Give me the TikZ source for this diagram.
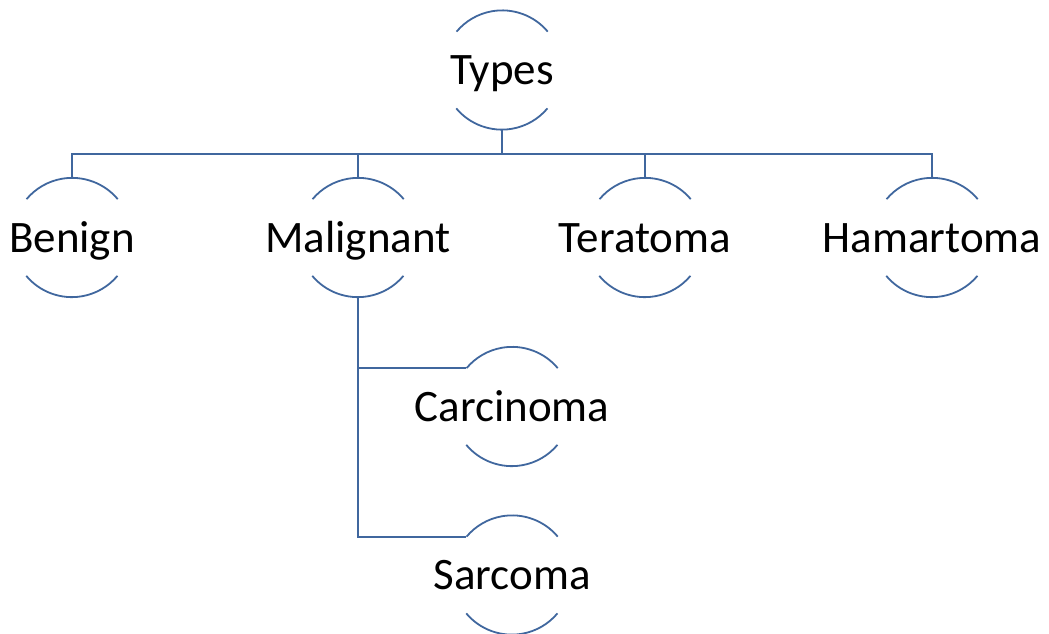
\documentclass[tikz,border=0pt]{standalone}
\usepackage{fontspec}
\setmainfont{Carlito}
\usepackage{tikz}

\definecolor{linea}{RGB}{64,103,158}

\tikzset{
  tipo/.style={circle, minimum size=119pt, inner sep=0pt},
  testo/.style={inner sep=0pt, text height=29pt, text depth=0pt,
    font=\fontsize{45}{50}\selectfont},
  archi/.style={draw=linea, line width=1.8pt}
}

\begin{document}
\begin{tikzpicture}[x=1pt, y=1pt]
\useasboundingbox (0,0) rectangle (1049,-633);

% Nodi della gerarchia
\node[tipo, label={[testo]center:Types}] (types) at (502,-70) {};
\node[tipo, label={[testo]center:Benign}] (benign) at (72,-237.5) {};
\node[tipo, label={[testo]center:Malignant}] (malignant) at (358,-237.5) {};
\node[tipo, label={[testo]center:Teratoma}] (teratoma) at (645,-237.5) {};
\node[tipo, label={[testo]center:Hamartoma}] (hamartoma) at (932,-237.5) {};
\node[tipo, label={[testo]center:Carcinoma}] (carcinoma) at (512,-406.5) {};
\node[tipo, label={[testo]center:Sarcoma}] (sarcoma) at (512,-575) {};

% Archi sopra e sotto ogni nodo
\foreach \n in {types,benign,malignant,teratoma,hamartoma,carcinoma,sarcoma}{
  \draw[archi] (\n.40) arc (40:140:59.5);
  \draw[archi] (\n.-140) arc (-140:-40:59.5);
}

% Collegamenti dal nodo radice
\foreach \n in {benign,malignant,teratoma,hamartoma}
  \draw[archi] (types.south) -- ++(0,-24) -| (\n.north);

% Collegamenti verso i sottotipi
\draw[archi] (malignant.south) |- (carcinoma.140);
\draw[archi] (malignant.south) |- (sarcoma.140);

\end{tikzpicture}
\end{document}
